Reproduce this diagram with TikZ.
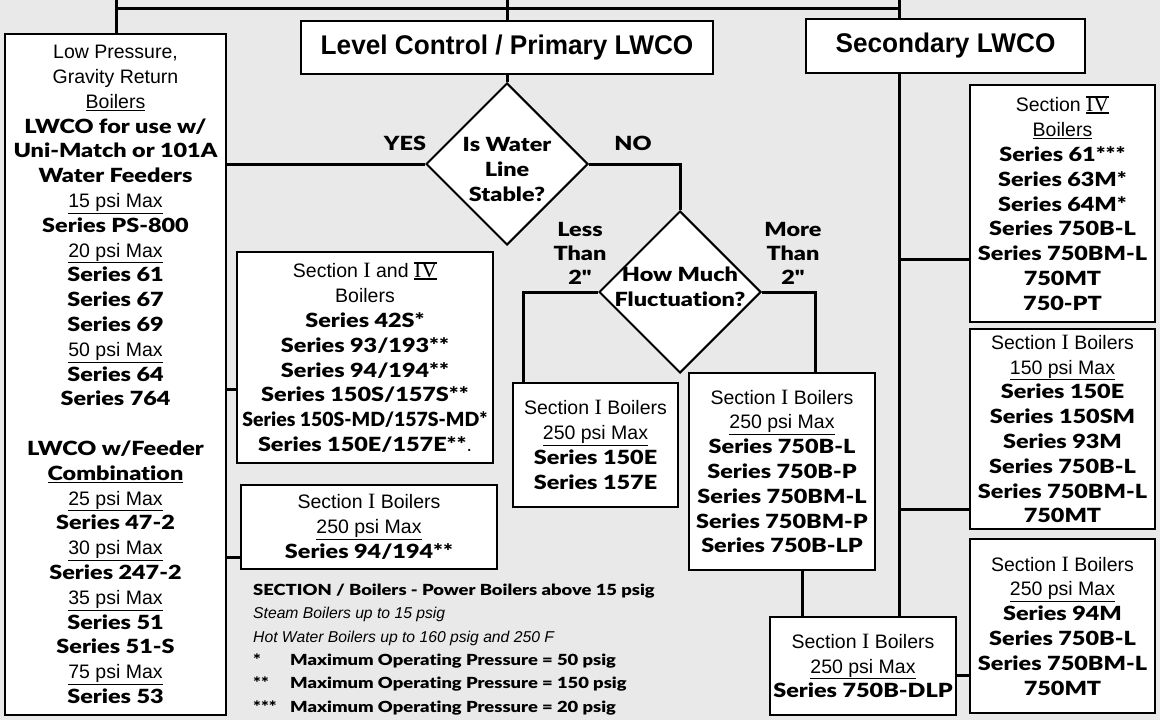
\documentclass[tikz,border=0pt]{standalone}
\usepackage{fontspec}
\setmainfont{Liberation Sans}
\newfontfamily\heavyfont{Lato Black}[FakeStretch=1.2, Ligatures=NoCommon]
\newfontfamily\headfont{Liberation Sans Bold}[FakeStretch=0.97]
\newfontfamily\romfont{Liberation Serif}[Scale=1.12]
\usetikzlibrary{shapes.geometric, positioning, calc}

\definecolor{bggray}{RGB}{233,233,233}

\newcommand{\hv}[1]{{\heavyfont #1}}
\newcommand{\mx}[1]{\underline{#1}}
\newcommand{\secI}{{\romfont I}}
\newcommand{\secIV}{{\romfont\setbox0\hbox{IV}\rlap{\rule[-0.07em]{\wd0}{0.07em}}\rlap{\rule[0.64em]{\wd0}{0.07em}}\box0}}

\begin{document}
\begin{tikzpicture}[
    x=1pt, y=-1pt,
    box/.style={draw, line width=2.5pt, fill=white, align=center, inner sep=0pt,
      font=\fontsize{19.5}{24.8}\selectfont},
    head/.style={draw, line width=2.6pt, fill=white, inner sep=0pt,
      font=\fontsize{27}{30}\selectfont\headfont},
    decision/.style={draw, diamond, line width=2pt, fill=white, inner sep=0pt,
      minimum width=162pt, minimum height=162pt},
    qtext/.style={align=center, inner sep=0pt, font=\fontsize{19.5}{25}\selectfont\heavyfont},
    answer/.style={align=center, inner sep=0pt, font=\fontsize{19.5}{24}\selectfont\heavyfont},
    legend/.style={align=left, inner sep=0pt, font=\fontsize{15.3}{23.4}\selectfont},
    link/.style={line width=3pt}
  ]
  \useasboundingbox (0,0) rectangle (1160,720);
  \fill[bggray] (0,0) rectangle (1160,720);

  % headings
  \node[head, minimum width=412pt, minimum height=53pt] (level) at (507,47.5) {Level Control / Primary LWCO};
  \node[head, minimum width=279pt, minimum height=54pt] (second) at (945.5,46) {Secondary LWCO};

  % left column
  \node[box, minimum width=221pt, minimum height=681pt] (lowbox) at (115.5,374.5) {%
    Low Pressure,\\ Gravity Return\\ \mx{Boilers}\\
    \hv{LWCO for use w/}\\ \hv{Uni-Match or 101A}\\ \hv{Water Feeders}\\
    \mx{15 psi Max}\\ \hv{Series PS-800}\\
    \mx{20 psi Max}\\ \hv{Series 61}\\ \hv{Series 67}\\ \hv{Series 69}\\
    \mx{50 psi Max}\\ \hv{Series 64}\\ \hv{Series 764}\\ ~\\
    \hv{LWCO w/Feeder}\\ \hv{\mx{Combination}}\\
    \mx{25 psi Max}\\ \hv{Series 47-2}\\
    \mx{30 psi Max}\\ \hv{Series 247-2}\\
    \mx{35 psi Max}\\ \hv{Series 51}\\ \hv{Series 51-S}\\
    \mx{75 psi Max}\\ \hv{Series 53}};

  % decisions
  \node[decision] (q1) at (507,164) {};
  \node[qtext] (q1t) at (507,169) {Is Water\\Line\\Stable?};
  \node[decision] (q2) at (680,292) {};
  \node[qtext] (q2t) at (680,286.5) {How Much\\Fluctuation?};

  \node[answer] (yes) at (405,143) {YES};
  \node[answer] (no) at (633,143) {NO};
  \node[answer] (less) at (580,253) {Less\\Than\\2"};
  \node[answer] (more) at (793,253) {More\\Than\\2"};

  % primary boxes
  \node[box, minimum width=256pt, minimum height=211pt] (secmix) at (365,357.5) {%
    Section \secI{} and \secIV\\ Boilers\\
    \hv{Series 42S*}\\ \hv{Series 93/193**}\\ \hv{Series 94/194**}\\
    \hv{Series 150S/157S**}\\ \hv{\scalebox{0.83}[1]{Series 150S-MD/157S-MD*}}\\
    \hv{Series 150E/157E**}.};
  \node[box, minimum width=256pt, minimum height=84pt] (secone) at (369,527) {%
    Section \secI{} Boilers\\ \mx{250 psi Max}\\ \hv{Series 94/194**}};
  \node[box, minimum width=165pt, minimum height=124pt] (lessbox) at (595.5,445) {%
    Section \secI{} Boilers\\ \mx{250 psi Max}\\ \hv{Series 150E}\\ \hv{Series 157E}};
  \node[box, minimum width=186pt, minimum height=197pt] (morebox) at (782,471.5) {%
    Section \secI{} Boilers\\ \mx{250 psi Max}\\ \hv{Series 750B-L}\\ \hv{Series 750B-P}\\
    \hv{Series 750BM-L}\\ \hv{Series 750BM-P}\\ \hv{Series 750B-LP}};
  \node[box, minimum width=186pt, minimum height=98pt] (dlpbox) at (863,666) {%
    Section \secI{} Boilers\\ \mx{250 psi Max}\\ \hv{Series 750B-DLP}};

  % secondary boxes
  \node[box, minimum width=185pt, minimum height=237pt] (sec4box) at (1062.5,203.5) {%
    Section \secIV\\ \mx{Boilers}\\ \hv{Series 61***}\\ \hv{Series 63M*}\\ \hv{Series 64M*}\\
    \hv{Series 750B-L}\\ \hv{Series 750BM-L}\\ \hv{750MT}\\ \hv{750-PT}};
  \node[box, minimum width=185pt, minimum height=200pt] (sec1a) at (1062.5,429) {%
    Section \secI{} Boilers\\ \mx{150 psi Max}\\ \hv{Series 150E}\\ \hv{Series 150SM}\\
    \hv{Series 93M}\\ \hv{Series 750B-L}\\ \hv{Series 750BM-L}\\ \hv{750MT}};
  \node[box, minimum width=185pt, minimum height=174pt] (sec1b) at (1062.5,626) {%
    Section \secI{} Boilers\\ \mx{250 psi Max}\\ \hv{Series 94M}\\ \hv{Series 750B-L}\\
    \hv{Series 750BM-L}\\ \hv{750MT}};

  % notes
  \node[legend, anchor=north west] (notes) at (253,583.5) {%
    \hv{SECTION / Boilers - Power Boilers above 15 psig}\\
    {\fontsize{15.7}{23.4}\selectfont\itshape Steam Boilers up to 15 psig}\\
    {\fontsize{15.7}{23.4}\selectfont\itshape Hot Water Boilers up to 160 psig and 250 F}\\
    \hv{\makebox[37pt][l]{*}Maximum Operating Pressure = 50 psig}\\
    \hv{\makebox[37pt][l]{**}Maximum Operating Pressure = 150 psig}\\
    \hv{\makebox[37pt][l]{***}Maximum Operating Pressure = 20 psig}};

  % connectors
  \coordinate (topL) at (116,0);
  \coordinate (topM) at (507,0);
  \coordinate (topR) at (899,0);
  \coordinate (busL) at (116,8);
  \coordinate (busR) at (899,8);
  \coordinate (dropA) at ([xshift=20pt]morebox.south);
  \coordinate (in4) at ([yshift=-55.5pt]sec4box.west);
  \coordinate (in1a) at ([yshift=-80pt]sec1a.west);
  \coordinate (out1b) at ([yshift=-9pt]dlpbox.east);
  \coordinate (inmix) at ([yshift=-32pt]secmix.west);
  \coordinate (inone) at ([yshift=-30pt]secone.west);

  \draw[link] (busL) -- (busR);
  \draw[link] (topL) -- (topL |- lowbox.north);
  \draw[link] (topM) -- (level.north);
  \draw[link] (topR) -- (topR |- second.north);
  \draw[link] (level.south) -- (q1.north);
  \draw[link] (q1.west) -- (q1.west -| lowbox.east);
  \draw[link] (q1.east) -| (q2.north);
  \draw[link] (q2.west) -| ([xshift=12pt]lessbox.north west);
  \draw[link] (q2.east) -| ([xshift=128pt]morebox.north west);
  \draw[link] (dropA) -- (dropA |- dlpbox.north);
  \draw[link] (topR |- second.south) -- (topR |- dlpbox.north);
  \draw[link] (in4) -- (in4 -| topR);
  \draw[link] (in1a) -- (in1a -| topR);
  \draw[link] (out1b) -- (out1b -| sec1b.west);
  \draw[link] (inmix) -- (inmix -| lowbox.east);
  \draw[link] (inone) -- (inone -| lowbox.east);
\end{tikzpicture}
\end{document}
